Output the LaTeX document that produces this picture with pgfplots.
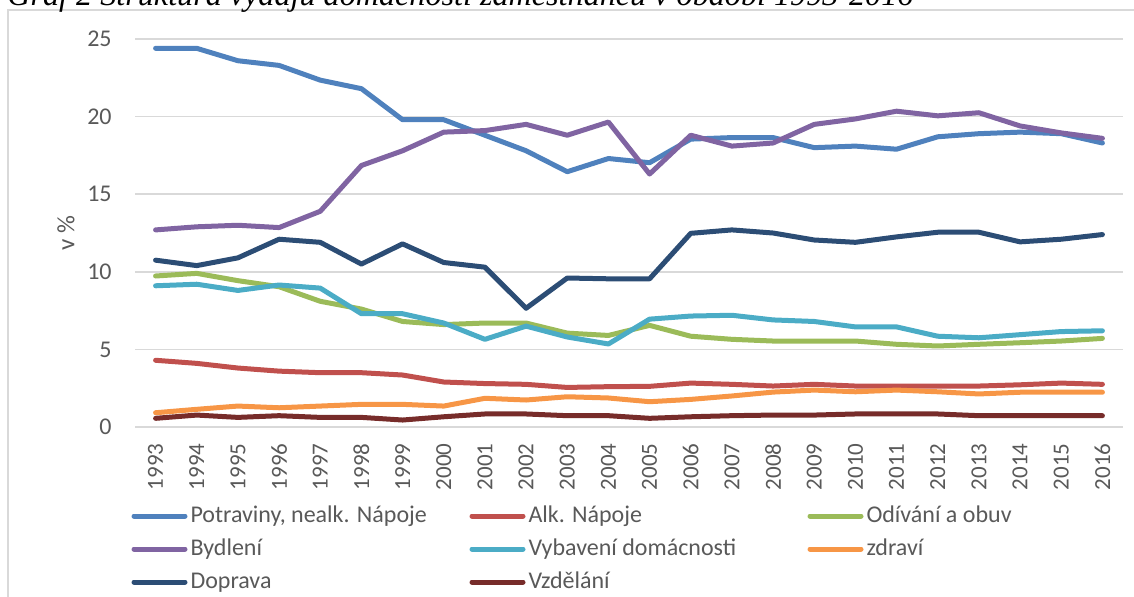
\documentclass[border=0pt]{standalone}
\usepackage{fontspec}
\setmainfont{Carlito}
\newfontfamily\titlefont{Liberation Serif}
\usepackage{pgfplots}
\usepackage{pgfplotstable}
\pgfplotsset{compat=1.18}
\definecolor{cpot}{HTML}{4F81BD}
\definecolor{calk}{HTML}{C0504D}
\definecolor{codi}{HTML}{9BBB59}
\definecolor{cbyd}{HTML}{8064A2}
\definecolor{cvyb}{HTML}{4BACC6}
\definecolor{czdr}{HTML}{F79646}
\definecolor{cdop}{HTML}{2C4D75}
\definecolor{cvzd}{HTML}{772C2A}
\definecolor{gridc}{HTML}{D9D9D9}
\definecolor{txt}{HTML}{595959}

\pgfplotstableread{
x  pot   alk  odi  byd   vyb  zdr  dop   vzd
0  24.4  4.30 9.73 12.7  9.10 0.92 10.75 0.56
1  24.4  4.10 9.90 12.9  9.20 1.14 10.40 0.77
2  23.6  3.80 9.43 13.0  8.80 1.35 10.90 0.62
3  23.3  3.60 9.04 12.85 9.15 1.24 12.10 0.73
4  22.35 3.50 8.10 13.9  8.95 1.35 11.90 0.62
5  21.8  3.50 7.60 16.85 7.30 1.46 10.50 0.62
6  19.8  3.35 6.80 17.8  7.30 1.46 11.80 0.45
7  19.8  2.90 6.60 19.0  6.70 1.35 10.60 0.66
8  18.8  2.80 6.70 19.1  5.65 1.85 10.30 0.84
9  17.8  2.75 6.70 19.5  6.50 1.74 7.65  0.84
10 16.45 2.55 6.05 18.8  5.80 1.95 9.60  0.73
11 17.3  2.60 5.90 19.65 5.35 1.87 9.55  0.73
12 17.03 2.62 6.55 16.3  6.95 1.63 9.55  0.56
13 18.55 2.83 5.85 18.8  7.15 1.78 12.48 0.66
14 18.65 2.75 5.65 18.1  7.20 2.00 12.70 0.73
15 18.65 2.64 5.54 18.3  6.90 2.25 12.50 0.77
16 18.0  2.75 5.54 19.5  6.80 2.38 12.05 0.77
17 18.1  2.64 5.54 19.85 6.45 2.27 11.90 0.84
18 17.9  2.64 5.33 20.35 6.45 2.38 12.25 0.84
19 18.7  2.64 5.22 20.05 5.85 2.27 12.55 0.84
20 18.9  2.64 5.33 20.25 5.75 2.13 12.55 0.73
21 19.0  2.72 5.43 19.4  5.95 2.24 11.93 0.73
22 18.9  2.83 5.54 18.95 6.15 2.24 12.10 0.73
23 18.3  2.75 5.71 18.6  6.20 2.24 12.40 0.73
}\data

\newcommand{\lt}[1]{\makebox[139.5pt][l]{#1}}

\begin{document}
\begin{tikzpicture}
\useasboundingbox (0,0) rectangle (567pt,-298pt);
\clip (0,0) rectangle (567pt,-298pt);
\draw[color=gridc, line width=0.6pt] (4pt,-400pt) -- (4pt,-5pt) -- (700pt,-5pt);
\node[anchor=base west, inner sep=0pt] at (3.5pt,-2.5pt) {\resizebox{453pt}{!}{\titlefont\itshape Graf 2 Struktura výdajů domácností zaměstnanců v období 1993-2016}};
\begin{axis}[
  scale only axis, width=494pt, height=194pt,
  at={(67.5pt,-213.5pt)}, anchor=south west,
  xmin=-0.5, xmax=23.5, ymin=0, ymax=25,
  xtick={0,...,23},
  xticklabels={1993,1994,1995,1996,1997,1998,1999,2000,2001,2002,2003,2004,2005,2006,2007,2008,2009,2010,2011,2012,2013,2014,2015,2016},
  ytick={0,5,10,15,20,25},
  axis lines*=left, axis line style={draw=none},
  major tick length=0pt,
  ymajorgrids, grid style={color=gridc, line width=0.75pt},
  /pgf/number format/assume math mode=true,
  tick label style={font=\fontsize{11.5}{13}\selectfont, text=txt},
  yticklabel style={font=\fontsize{12}{14}\selectfont},
  xticklabel style={yshift=-8pt, rotate=90, anchor=east, inner sep=0pt},
  yticklabel style={xshift=-11.5pt, anchor=east, inner sep=0pt},
  ylabel={v \%},
  every axis y label/.style={at={(axis description cs:0,0.5)}, xshift=-34.5pt, rotate=90, anchor=center, font=\fontsize{12.5}{14}\selectfont, text=txt},
  no marks,
  every axis plot/.append style={line width=2.5pt, line cap=round, line join=round},
  legend columns=3,
  legend image code/.code={\draw[#1] (0pt,0pt) -- (25.5pt,0pt);},
  legend style={at={(axis description cs:0,0)}, anchor=north west, xshift=-1.75pt, yshift=-39pt,
    draw=none, fill=none, inner sep=0pt, outer sep=0pt, row sep=5.5pt,
    font=\fontsize{12}{14}\selectfont, text=txt,
    nodes={inner sep=0pt, text height=8.5pt, text depth=2.5pt},
    /tikz/every odd column/.append style={column sep=1.5pt},
    /tikz/every even column/.append style={column sep=0pt}},
]
\addplot[color=cpot] table[x=x,y=pot]{\data};
\addlegendentry{\lt{Potraviny, nealk. Nápoje}}
\addplot[color=calk] table[x=x,y=alk]{\data};
\addlegendentry{\lt{Alk. Nápoje}}
\addplot[color=codi] table[x=x,y=odi]{\data};
\addlegendentry{\lt{Odívání a obuv}}
\addplot[color=cbyd] table[x=x,y=byd]{\data};
\addlegendentry{\lt{Bydlení}}
\addplot[color=cvyb] table[x=x,y=vyb]{\data};
\addlegendentry{\lt{Vybavení domácnosti}}
\addplot[color=czdr] table[x=x,y=zdr]{\data};
\addlegendentry{\lt{zdraví}}
\addplot[color=cdop] table[x=x,y=dop]{\data};
\addlegendentry{\lt{Doprava}}
\addplot[color=cvzd] table[x=x,y=vzd]{\data};
\addlegendentry{\lt{Vzdělání}}
\end{axis}
\end{tikzpicture}
\end{document}
